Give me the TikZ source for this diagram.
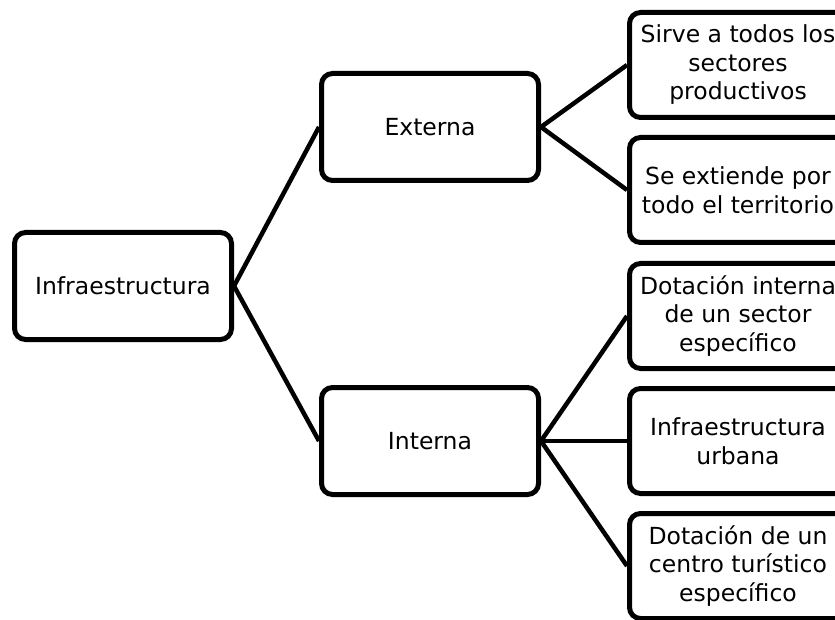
\documentclass[tikz,border=0pt]{standalone}
\usepackage{fontspec}
\setmainfont{DejaVu Sans}
\begin{document}
\begin{tikzpicture}[x=1pt,y=-1pt,
  box/.style={draw=black,line width=5pt,rounded corners=11pt,fill=white,
    minimum width=217pt,minimum height=107pt,align=center,inner sep=0pt,
    font=\fontsize{23.5}{28.5}\selectfont},
  leaf/.style={box,minimum height=105pt},
  link/.style={line width=4.5pt}]
\useasboundingbox (0,0) rectangle (835,620);
\node[box] (inf) at (123,286) {Infraestructura};
\node[box] (ext) at (430,127) {Externa};
\node[box] (int) at (430,441) {Interna};
\node[leaf] (s1) at (738,65) {Sirve a todos los\\sectores\\productivos};
\node[leaf] (s2) at (738,190) {Se extiende por\\todo el territorio};
\node[leaf] (s3) at (738,316) {Dotación interna\\de un sector\\específico};
\node[leaf] (s4) at (738,441) {Infraestructura\\urbana};
\node[leaf] (s5) at (738,566) {Dotación de un\\centro turístico\\específico};
\draw[link] (inf.east) -- (ext.west);
\draw[link] (inf.east) -- (int.west);
\draw[link] (ext.east) -- (s1.west);
\draw[link] (ext.east) -- (s2.west);
\draw[link] (int.east) -- (s3.west);
\draw[link] (int.east) -- (s4.west);
\draw[link] (int.east) -- (s5.west);
\end{tikzpicture}
\end{document}
